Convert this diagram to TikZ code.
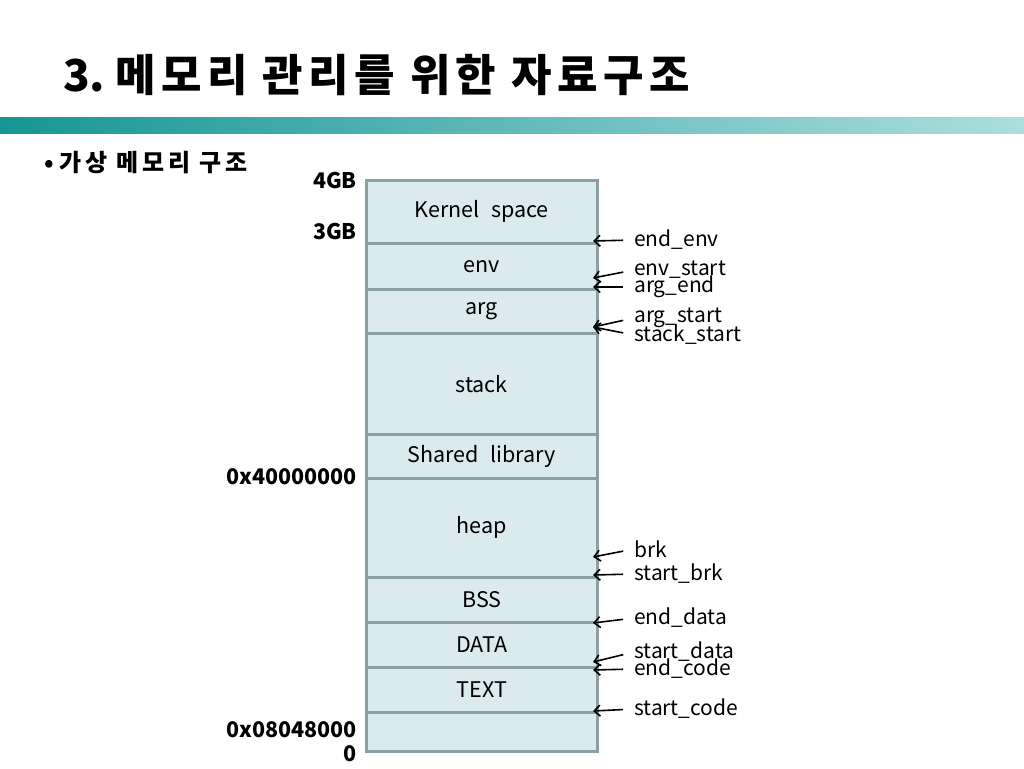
\documentclass[tikz,border=0pt]{standalone}
\usepackage{fontspec}
\setmainfont{Noto Sans CJK KR}
\usetikzlibrary{arrows.meta,positioning}
\definecolor{memfill}{RGB}{219,234,238}
\definecolor{memline}{RGB}{138,160,165}
\definecolor{barleft}{RGB}{22,150,148}
\definecolor{barright}{RGB}{172,222,222}

\begin{document}
\begin{tikzpicture}[x=1pt, y=-1pt,
  seg/.style={draw=memline, line width=2.5pt, fill=memfill, minimum width=231pt, inner sep=0pt, anchor=north west, font=\fontsize{21.5}{24}\selectfont},
  addr/.style={anchor=east, inner sep=0pt, font=\bfseries\fontsize{21.5}{24}\selectfont},
  ptr/.style={anchor=west, inner sep=0pt, font=\fontsize{21}{22}\selectfont},
  ptrarrow/.style={-{Straight Barb[length=6pt,width=11pt]}, line width=1.6pt, shorten <=11pt}]
  \useasboundingbox (0,0) rectangle (1024,768);

  % title and bar
  \node[anchor=west, inner sep=0pt, font=\bfseries\fontsize{44}{48}\selectfont] (title) at (63,75) {3.~{\addfontfeatures{LetterSpace=12}메모리 관리를 위한 자료구조}};
  \shade[left color=barleft, right color=barright] (0,117) rectangle (1024,133);
  \node[anchor=west, inner sep=0pt, font=\bfseries\fontsize{24}{26}\selectfont] (sub) at (44,163) {•~{\addfontfeatures{LetterSpace=16}가상 메모리 구조}};

  % memory segments
  \node[seg, minimum height=63pt] (kern) at (365,179) {Kernel\hspace{0.3em} space};
  \node[seg, minimum height=46pt] (env) at (365,242) {env};
  \node[seg, minimum height=44pt] (arg) at (365,288) {arg};
  \node[seg, minimum height=101pt] (stack) at (365,332) {stack};
  \node[seg, minimum height=44pt] (shlib) at (365,433) {Shared\hspace{0.3em} library};
  \node[seg, minimum height=99pt] (heap) at (365,477) {heap};
  \node[seg, minimum height=45pt] (bss) at (365,576) {BSS};
  \node[seg, minimum height=45pt] (data) at (365,621) {DATA};
  \node[seg, minimum height=45pt] (text) at (365,666) {TEXT};
  \node[seg, minimum height=39pt] (low) at (365,711) {};

  % addresses
  \node[addr] (a4gb) at (357,180) {4GB};
  \node[addr] (a3gb) at (357,231) {3GB};
  \node[addr] (ashl) at (357,477) {0x40000000};
  \node[addr] (acode) at (357,730) {0x08048000};
  \node[addr] (azero) at (357,754) {0};

  % pointer labels
  \node[ptr] (endenv) at (634,240) {end\_env};
  \node[ptr] (envstart) at (634,270) {env\_start};
  \node[ptr] (argend) at (634,287) {arg\_end};
  \node[ptr] (argstart) at (634,318) {arg\_start};
  \node[ptr] (stackstart) at (634,335) {stack\_start};
  \node[ptr] (brk) at (634,549) {brk};
  \node[ptr] (startbrk) at (634,574) {start\_brk};
  \node[ptr] (enddata) at (634,618) {end\_data};
  \node[ptr] (startdata) at (634,652) {start\_data};
  \node[ptr] (endcode) at (634,669) {end\_code};
  \node[ptr] (startcode) at (634,709) {start\_code};

  \coordinate (t_endenv) at (593,241);
  \coordinate (t_envstart) at (593,278);
  \coordinate (t_argend) at (593,287);
  \coordinate (t_stack) at (593,327);
  \coordinate (t_brk) at (593,557);
  \coordinate (t_startbrk) at (593,575);
  \coordinate (t_enddata) at (593,623);
  \coordinate (t_startdata) at (593,662);
  \coordinate (t_endcode) at (593,670);
  \coordinate (t_startcode) at (593,711);

  \draw[ptrarrow] (endenv.west) -- (t_endenv);
  \draw[ptrarrow] (envstart.west) -- (t_envstart);
  \draw[ptrarrow] (argend.west) -- (t_argend);
  \draw[ptrarrow] (argstart.west) -- (t_stack);
  \draw[ptrarrow] (stackstart.west) -- (t_stack);
  \draw[ptrarrow] (brk.west) -- (t_brk);
  \draw[ptrarrow] (startbrk.west) -- (t_startbrk);
  \draw[ptrarrow] (enddata.west) -- (t_enddata);
  \draw[ptrarrow] (startdata.west) -- (t_startdata);
  \draw[ptrarrow] (endcode.west) -- (t_endcode);
  \draw[ptrarrow] (startcode.west) -- (t_startcode);
\end{tikzpicture}
\end{document}
